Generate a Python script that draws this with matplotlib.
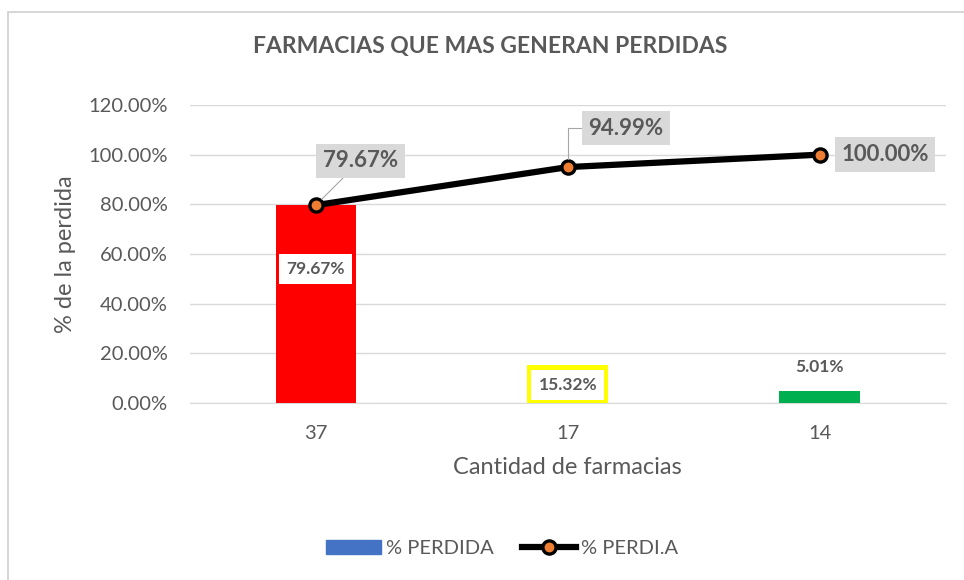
import matplotlib.pyplot as plt
from matplotlib.patches import Rectangle
from matplotlib.lines import Line2D
from matplotlib.patches import Patch

plt.rcParams['font.family'] = ['Lato', 'DejaVu Sans']

categories = ["37", "17", "14"]
perdida = [79.67, 15.32, 5.01]
perdida_acum = [79.67, 94.99, 100.00]
bar_colors = ["#FF0000", "#FFFF00", "#00B050"]
yticks = [0, 20, 40, 60, 80, 100, 120]

gray_txt = "#595959"
grid_col = "#d9d9d9"

fig = plt.figure(figsize=(9.64, 5.8), dpi=100)
ax = fig.add_axes([0.197, 0.3052, 0.784, 0.5138])

# chart frame
fig.patches.append(Rectangle((8 / 964, -0.05), 1.1, 1 - 12 / 580 + 0.05,
                             transform=fig.transFigure, fill=False,
                             edgecolor="#d0d0d0", lw=1.2))

x = list(range(len(categories)))
ax.bar(x, perdida, width=0.32, color=bar_colors, zorder=2)
ax.plot(x, perdida_acum, color="black", lw=4.5, marker="o", markersize=9.5,
        markerfacecolor="#ED7D31", markeredgecolor="black", markeredgewidth=2.4,
        zorder=4)

ax.set_xlim(-0.5, 2.5)
ax.set_ylim(0, 120)
ax.set_yticks(yticks)
ax.set_yticklabels([f"{v:.2f}%" for v in yticks])
ax.set_xticks(x)
ax.set_xticklabels(categories)
ax.tick_params(length=0, colors=gray_txt, labelsize=14.5)
ax.tick_params(axis="y", pad=16)
ax.tick_params(axis="x", pad=16)
ax.grid(axis="y", color=grid_col, lw=1, zorder=0)
for s in ["top", "right", "left"]:
    ax.spines[s].set_visible(False)
ax.spines["bottom"].set_color(grid_col)
ax.spines["bottom"].set_zorder(1)

ax.set_xlabel("Cantidad de farmacias", color=gray_txt, fontsize=17, labelpad=11)
ax.set_ylabel("% de la perdida", color=gray_txt, fontsize=17, labelpad=9)
fig.text(0.508, 0.919, "FARMACIAS QUE MAS GENERAN PERDIDAS", ha="center",
         va="center", fontsize=16.5, fontweight="bold", color=gray_txt)

# bar labels
bar_label_y = [54, 7.2, 14.6]
bar_label_box = [True, True, False]
for xi, v, ly, boxed in zip(x, perdida, bar_label_y, bar_label_box):
    kw = dict(ha="center", va="center", fontsize=12.5, fontweight="bold",
              color=gray_txt, zorder=5)
    if boxed:
        kw["bbox"] = dict(boxstyle="square,pad=0.42", fc="white", ec="none")
    ax.text(xi, ly, f"{v:.2f}%", **kw)

# line labels
offsets = [(32, 32), (42, 28), (47, 0)]
leaders = ["arc3", "angle,angleA=0,angleB=90,rad=0", None]
for xi, v, off, cs in zip(x, perdida_acum, offsets, leaders):
    ap = None
    if cs:
        ap = dict(arrowstyle="-", color="#a6a6a6", lw=0.8, connectionstyle=cs,
                  shrinkA=0, shrinkB=6)
    ax.annotate(f"{v:.2f}%", (xi, v), xytext=off, textcoords="offset points",
                ha="center", va="center", fontsize=16, fontweight="bold",
                color=gray_txt, zorder=6, arrowprops=ap,
                bbox=dict(boxstyle="square,pad=0.3", fc="#d9d9d9", ec="none"))

handles = [Patch(color="#4472C4"),
           Line2D([], [], color="black", lw=4.5, marker="o", markersize=9.5,
                  markerfacecolor="#ED7D31", markeredgecolor="black",
                  markeredgewidth=2.4)]
fig.legend(handles, ["% PERDIDA", "% PERDI.A"], loc="center",
           bbox_to_anchor=(0.521, 0.055), ncol=2, frameon=False,
           handlelength=2.7, handletextpad=0.25, columnspacing=1.4,
           fontsize=14.5, labelcolor=gray_txt)

fig.savefig("out.png", dpi=100, facecolor="white")
